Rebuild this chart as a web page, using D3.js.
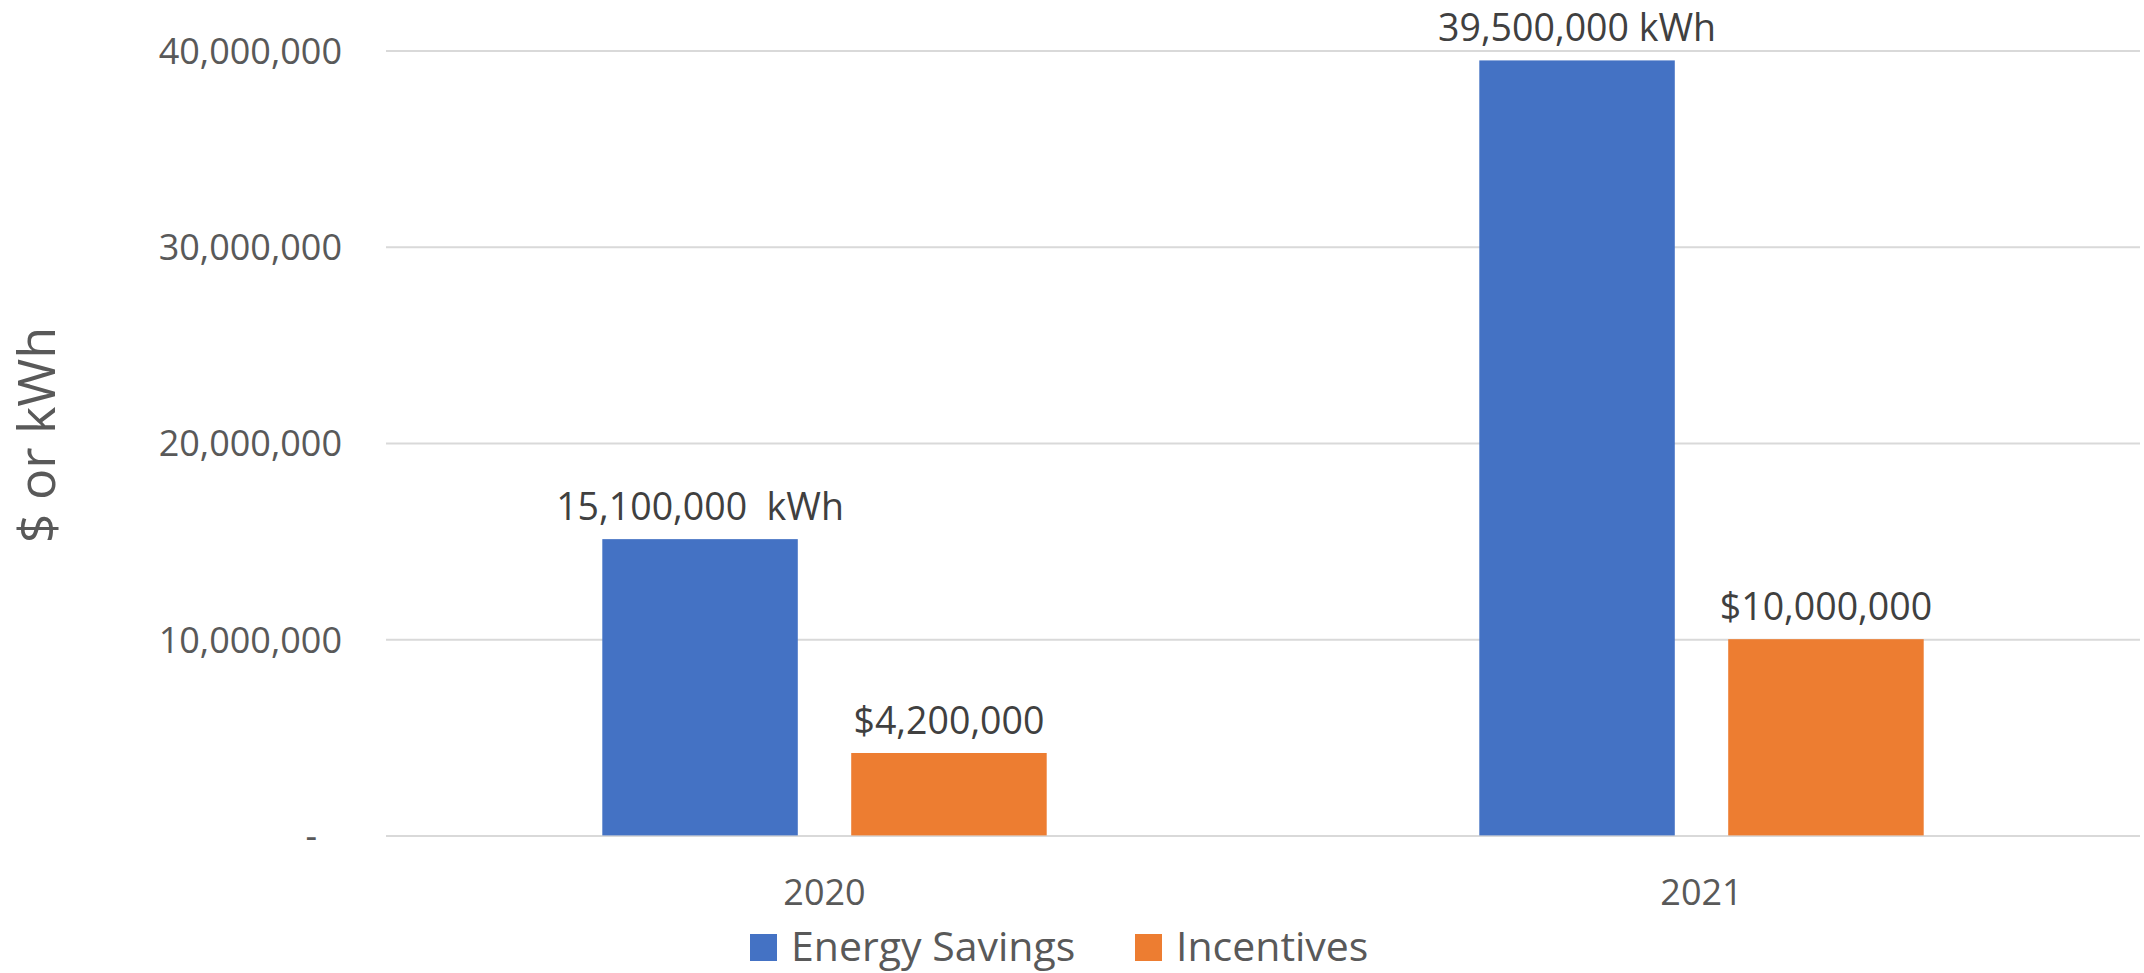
<!DOCTYPE html>
<html>
<head>
<meta charset="utf-8">
<script src="https://cdnjs.cloudflare.com/ajax/libs/d3/7.8.5/d3.min.js"></script>
<style>
  html, body { margin: 0; padding: 0; background: #fff; }
  svg { display: block; }
  svg text { font-family: "Open Sans", "Noto Sans", sans-serif; }
</style>
</head>
<body>
<div id="chart"></div>
<script>
const Width = 2144;
const Height = 973;

// data
const years = ['2020', '2021'];
const seriesNames = ['Energy Savings', 'Incentives'];
const energySavings = [15100000, 39500000];
const incentives = [4200000, 10000000];
const barLabels = {
  'Energy Savings': ['15,100,000  kWh', '39,500,000 kWh'],
  'Incentives': ['$4,200,000', '$10,000,000']
};
const yTicks = [0, 10000000, 20000000, 30000000, 40000000];
const colors = ['#4472c4', '#ed7d31'];

const Left = 386;
const Right = 2140;
const Top = 50.6;
const Bottom = 835.4;

const svg = d3.select('#chart').
append('svg').
attr('width', Width).
attr('height', Height);

const y = d3.scaleLinear().domain([0, 40000000]).range([Bottom, Top]);

const x0 = d3.scaleBand().domain(years).range([Left, Right]).padding(0);

// group of two bars sits in the middle of each category band
const groupW = 444.4;
const x1 = d3.scaleBand().
domain(seriesNames).
range([(x0.bandwidth() - groupW) / 2, (x0.bandwidth() + groupW) / 2]).
paddingInner(0.2146).
paddingOuter(0);

const color = d3.scaleOrdinal().domain(seriesNames).range(colors);

//gridlines + y tick labels
const yAxis = d3.axisLeft(y).
tickValues(yTicks).
tickSize(-(Right - Left)).
tickPadding(44).
tickFormat(d => d === 0 ? '-' : d3.format(',')(d));

const gy = svg.append('g').
attr('transform', 'translate(' + Left + ',0)').
call(yAxis);
gy.attr('font-family', null).attr('font-size', null);
gy.select('.domain').remove();
gy.selectAll('.tick line').attr('stroke', '#d9d9d9').attr('stroke-width', 2);
gy.selectAll('.tick text').
attr('fill', '#595959').
style('font-size', '36px').
attr('dy', '0.36em');
gy.selectAll('.tick').filter(d => d === 0).select('text').attr('dx', -25);

//x tick labels
const xAxis = d3.axisBottom(x0).tickSize(0).tickPadding(44);
const gx = svg.append('g').
attr('transform', 'translate(0,' + Bottom + ')').
call(xAxis);
gx.attr('font-family', null).attr('font-size', null);
gx.select('.domain').remove();
gx.selectAll('.tick text').
attr('fill', '#595959').
style('font-size', '36px');

//bars
const rows = years.map((yr, i) => ({
  year: yr,
  values: [
  { key: 'Energy Savings', value: energySavings[i], label: barLabels['Energy Savings'][i] },
  { key: 'Incentives', value: incentives[i], label: barLabels['Incentives'][i] }]
}));

const groups = svg.selectAll('.group').
data(rows).
enter().
append('g').
attr('class', 'group').
attr('transform', d => 'translate(' + x0(d.year) + ',0)');

groups.selectAll('rect').
data(d => d.values).
enter().
append('rect').
attr('x', d => x1(d.key)).
attr('y', d => y(d.value)).
attr('width', x1.bandwidth()).
attr('height', d => y(0) - y(d.value)).
attr('fill', d => color(d.key));

groups.selectAll('.bar-label').
data(d => d.values).
enter().
append('text').
attr('class', 'bar-label').
attr('x', d => x1(d.key) + x1.bandwidth() / 2).
attr('y', d => y(d.value) - 19).
attr('text-anchor', 'middle').
attr('fill', '#404040').
style('font-size', '37.5px').
style('white-space', 'pre').
text(d => d.label);

//y axis title
svg.append('text').
attr('transform', 'translate(55,435) rotate(-90)').
attr('text-anchor', 'middle').
attr('fill', '#595959').
style('font-size', '52px').
text('$ or kWh');

//legend
const legendItems = [
{ key: 'Energy Savings', x: 750 },
{ key: 'Incentives', x: 1135 }];

const legend = svg.selectAll('.legend').
data(legendItems).
enter().
append('g').
attr('class', 'legend').
attr('transform', d => 'translate(' + d.x + ',934)');

legend.append('rect').
attr('width', 27).
attr('height', 27).
attr('fill', d => color(d.key));

legend.append('text').
attr('x', 41).
attr('y', 27).
attr('fill', '#595959').
style('font-size', '41px').
text(d => d.key);
</script>
</body>
</html>
